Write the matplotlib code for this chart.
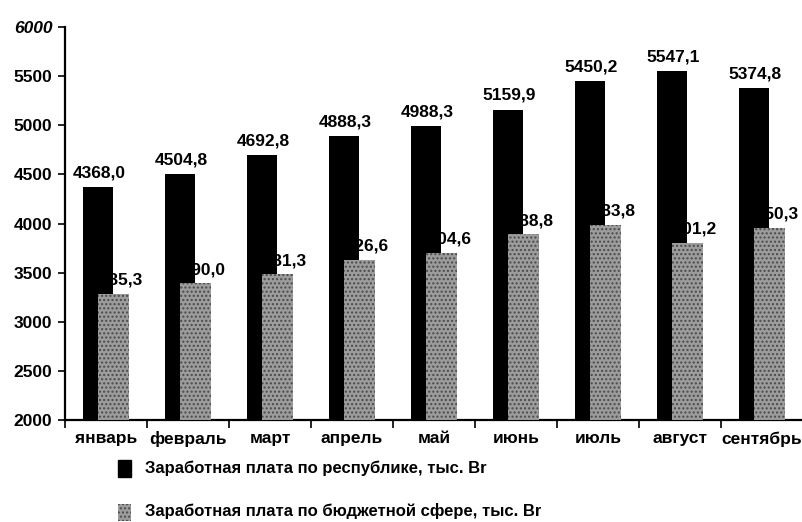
import numpy as np
import matplotlib.pyplot as plt

# --- data ---
months = ["январь", "февраль", "март", "апрель", "май",
          "июнь", "июль", "август", "сентябрь"]
republic = [4368.0, 4504.8, 4692.8, 4888.3, 4988.3, 5159.9, 5450.2, 5547.1, 5374.8]
budget = [3285.3, 3390.0, 3481.3, 3626.6, 3704.6, 3888.8, 3983.8, 3801.2, 3950.3]
legend_labels = ["Заработная плата по республике, тыс. Br",
                 "Заработная плата по бюджетной сфере, тыс. Br"]
yticks = list(range(2000, 6001, 500))

plt.rcParams["font.family"] = ["Liberation Sans", "DejaVu Sans"]
plt.rcParams["font.weight"] = "bold"

GRAY = "#9c9c9c"


def fmt(v):
    return f"{v:.1f}".replace(".", ",")


fig = plt.figure(figsize=(8.02, 5.22), dpi=100)
ax = fig.add_axes([65 / 802, 1 - 420 / 522, 738 / 802, 393 / 522])

x = np.arange(len(months))
# gray labels sit behind the black bars, gray bars in front of them
for xi, v in zip(x, budget):
    ax.text(xi + 0.13, v + 65, fmt(v), ha="center", va="bottom",
            fontsize=12.5, fontweight="bold", zorder=1)
ax.bar(x - 0.1, republic, width=0.37, color="black", zorder=2)
ax.bar(x + 0.09, budget, width=0.37, color=GRAY, hatch="....",
       edgecolor="#4a4a4a", linewidth=0, zorder=3)
for xi, v in zip(x, republic):
    ax.text(xi - 0.08, v + 70, fmt(v), ha="center", va="bottom",
            fontsize=12.5, fontweight="bold", zorder=4)

ax.set_ylim(2000, 6000)
ax.set_xlim(-0.5, len(months) - 0.5)
ax.set_yticks(yticks)
ax.set_yticklabels([str(t) for t in yticks], fontsize=12.5, fontweight="bold")
ax.get_yticklabels()[-1].set_fontstyle("italic")
ax.set_xticks(x)
ax.set_xticklabels(months, fontsize=12.5, fontweight="bold")
ax.tick_params(axis="x", length=0, pad=8)
ax.set_xticks(np.arange(-0.5, len(months)), minor=True)
ax.tick_params(axis="x", which="minor", length=6, width=1.2)
ax.tick_params(axis="y", length=5, width=1.2, pad=4)
for s in ["top", "right"]:
    ax.spines[s].set_visible(False)
for s in ["left", "bottom"]:
    ax.spines[s].set_linewidth(1.6)

# legend, drawn by hand below the axes
fig.patches.append(plt.Rectangle((118 / 802, 1 - 477 / 522), 13 / 802, 17 / 522,
                                 transform=fig.transFigure, color="black"))
fig.patches.append(plt.Rectangle((118 / 802, 1 - 521 / 522), 13 / 802, 17 / 522,
                                 transform=fig.transFigure, facecolor=GRAY,
                                 hatch="....", edgecolor="#4a4a4a", linewidth=0))
fig.text(145 / 802, 1 - 468 / 522, legend_labels[0], fontsize=12,
         fontweight="bold", va="center")
fig.text(145 / 802, 1 - 511 / 522, legend_labels[1], fontsize=12,
         fontweight="bold", va="center")

fig.savefig("out.png", dpi=100)
